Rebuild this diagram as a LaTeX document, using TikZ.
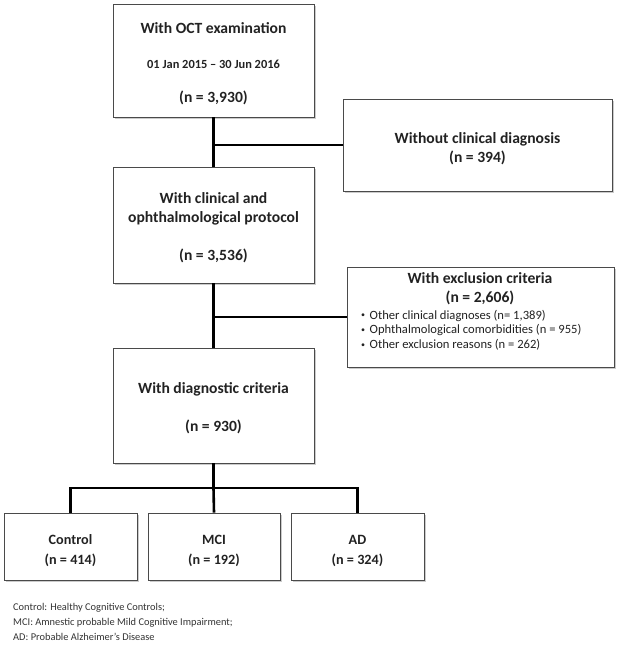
\documentclass[tikz,border=0pt]{standalone}
\usepackage{fontspec}
\setmainfont{Carlito}
\usetikzlibrary{shadows}
\definecolor{txt}{HTML}{222222}
\definecolor{edge}{HTML}{4A4A4A}
\newcommand{\smallbul}{\raisebox{1.2pt}{\fontsize{8}{8}\selectfont\textbullet}\hspace{4.5pt}}
\tikzset{
  box/.style={draw=edge, line width=0.9pt, fill=white, inner sep=0pt,
    drop shadow={shadow xshift=2pt, shadow yshift=-2pt, fill=black!45, opacity=0.45}},
  bt/.style={font=\bfseries\fontsize{15.6}{17}\selectfont, text=txt, anchor=base, inner sep=0pt},
  bs/.style={font=\bfseries\fontsize{14.2}{15}\selectfont, text=txt, anchor=base, inner sep=0pt},
  st/.style={font=\bfseries\fontsize{12.4}{14}\selectfont, text=txt, anchor=base, inner sep=0pt},
  lt/.style={font=\fontsize{12.6}{14}\selectfont, text=txt, anchor=base west, inner sep=0pt},
  ft/.style={font=\fontsize{10.4}{12}\selectfont, text=black!80, anchor=base west, inner sep=0pt},
  conn/.style={line width=2.6pt, black},
}
\begin{document}
\begin{tikzpicture}[x=1pt,y=-1pt]
\useasboundingbox (0,0) rectangle (625,645);
% boxes
\node[box, minimum width=201pt, minimum height=113pt] (b1) at (213.5,60.5) {};
\node[box, minimum width=269pt, minimum height=92pt] (wo) at (477.5,145) {};
\node[box, minimum width=201pt, minimum height=116pt] (b2) at (213.5,225) {};
\node[box, minimum width=267pt, minimum height=100pt] (ex) at (480.5,317) {};
\node[box, minimum width=201pt, minimum height=115pt] (b3) at (213.5,405.5) {};
\node[box, minimum width=133pt, minimum height=67pt] (ctl) at (70.5,546.5) {};
\node[box, minimum width=132pt, minimum height=67pt] (mci) at (214,546.5) {};
\node[box, minimum width=133pt, minimum height=67pt] (ad) at (357.5,546.5) {};
% texts
\node[bt] (b1a) at (213.5,33) {With OCT examination};
\node[st] (b1b) at (213.5,68.5) {01 Jan 2015 -- 30 Jun 2016};
\node[bt] (b1c) at (213.5,102) {(n = 3,930)};
\node[bt] (woa) at (477.5,143.5) {Without clinical diagnosis};
\node[bt] (wob) at (477.5,162) {(n = 394)};
\node[bt] (b2a) at (213.5,203.5) {With clinical and};
\node[bt] (b2b) at (213.5,222) {ophthalmological protocol};
\node[bt] (b2c) at (213.5,260.5) {(n = 3,536)};
\node[bt] (exa) at (480,283.5) {With exclusion criteria};
\node[bt] (exb) at (480,302.5) {(n = 2,606)};
\node[lt] (ex1) at (361,319) {\smallbul Other clinical diagnoses (n= 1,389)};
\node[lt] (ex2) at (361,333.5) {\smallbul Ophthalmological comorbidities (n = 955)};
\node[lt] (ex3) at (361,348.3) {\smallbul Other exclusion reasons (n = 262)};
\node[bt] (b3a) at (213.5,393.5) {With diagnostic criteria};
\node[bt] (b3b) at (213.5,431.5) {(n = 930)};
\node[bs] (ctla) at (70.5,544) {Control};
\node[bs] (ctlb) at (70.5,564) {(n = 414)};
\node[bs] (mcia) at (214,544) {MCI};
\node[bs] (mcib) at (214,564) {(n = 192)};
\node[bs] (ada) at (357.5,544) {AD};
\node[bs] (adb) at (357.5,564) {(n = 324)};
\node[ft] (f1) at (13,610.5) {Control: Healthy Cognitive Controls;};
\node[ft] (f2) at (13,625.5) {MCI: Amnestic probable Mild Cognitive Impairment;};
\node[ft] (f3) at (13,640.5) {AD: Probable Alzheimer's Disease};
% connectors
\coordinate (j1) at (b1.south |- wo.west);
\coordinate (j2) at (b2.south |- ex.west);
\coordinate (j3) at (213.5,488);
\begin{scope}[on background layer/.try]
\draw[conn] (b1.south) -- (b2.north);
\draw[conn] (j1) -- (wo.west);
\draw[conn] (b2.south) -- (b3.north);
\draw[conn] (j2) -- (ex.west);
\draw[conn] (b3.south) -- (j3);
\draw[conn, line cap=rect] (ctl.north |- j3) -- (ad.north |- j3);
\draw[conn] (ctl.north |- j3) -- (ctl.north);
\draw[conn] (j3) -- (mci.north);
\draw[conn] (ad.north |- j3) -- (ad.north);
\end{scope}
\end{tikzpicture}
\end{document}
